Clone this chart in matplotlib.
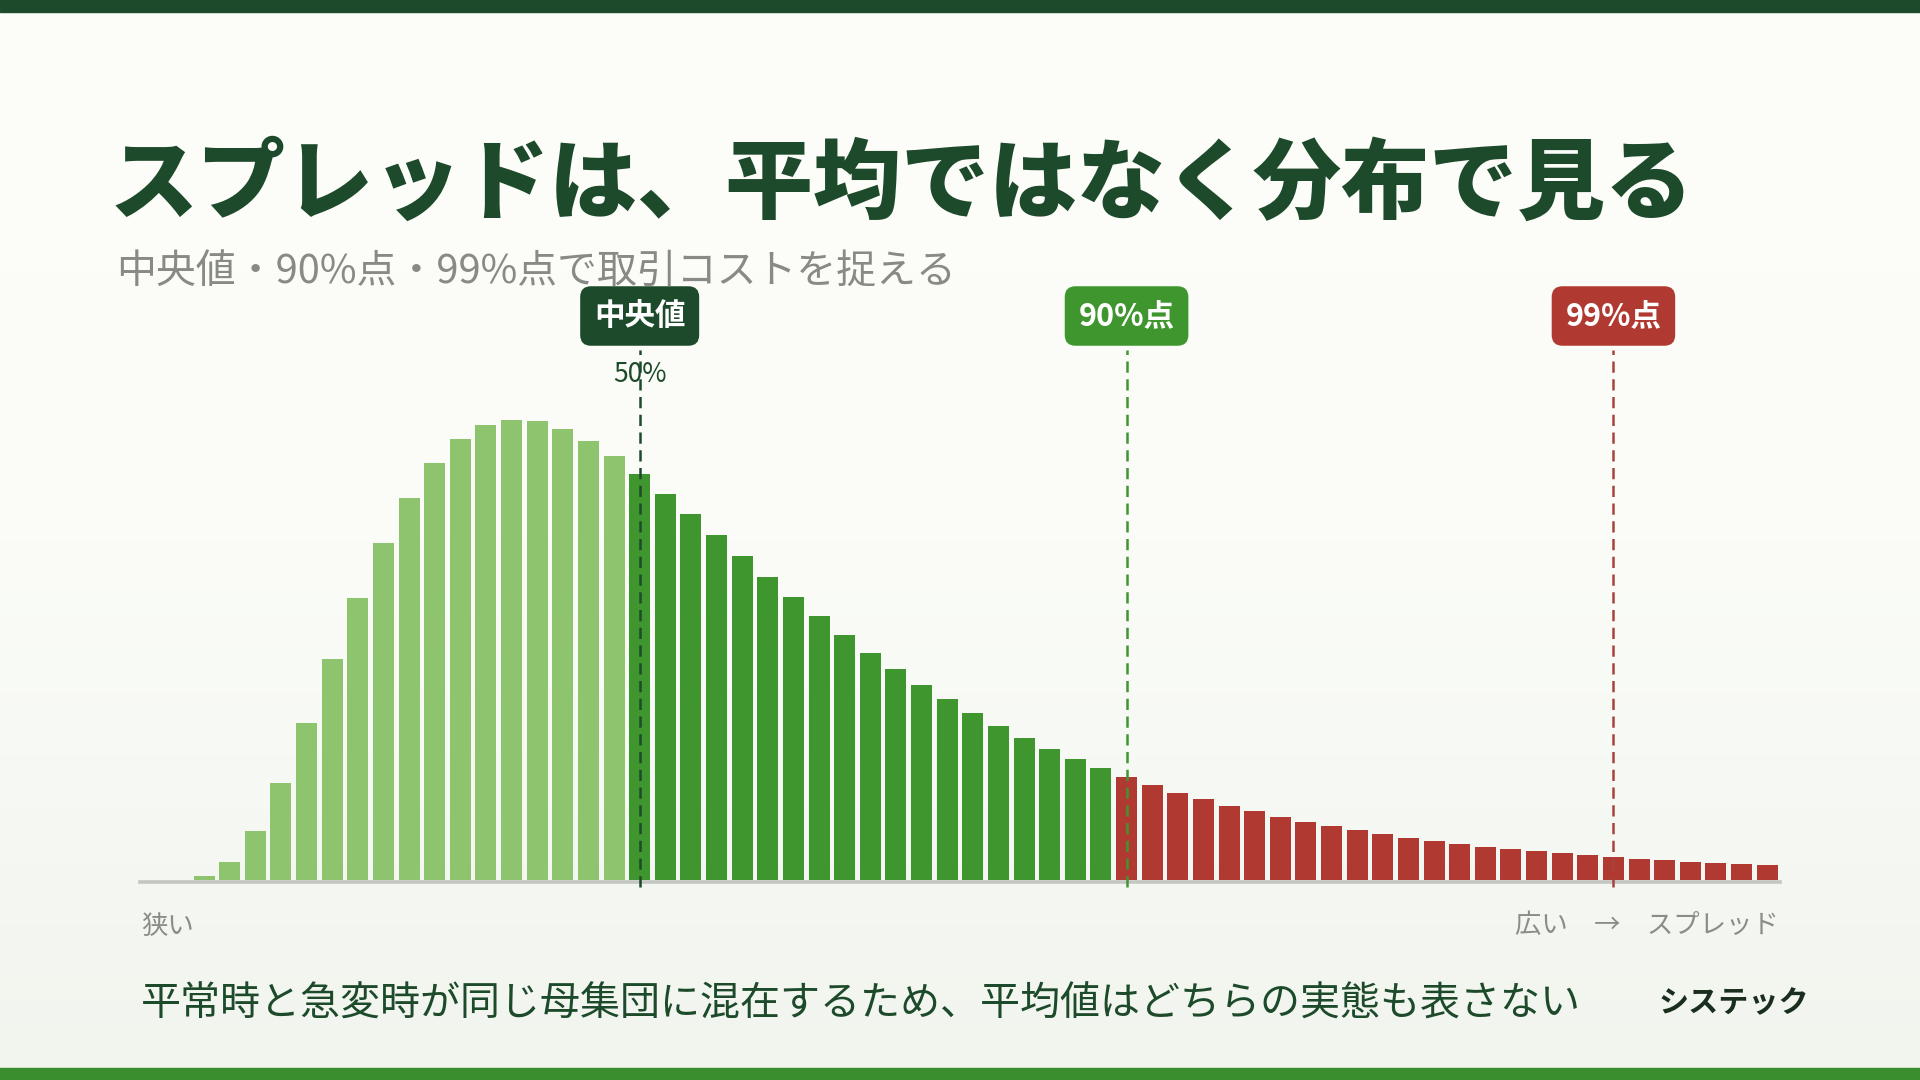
# Spread distribution chart
# -----------------
import numpy as np
import matplotlib.pyplot as plt
from matplotlib.colors import LinearSegmentedColormap
import matplotlib.transforms as mtransforms

plt.rcParams['font.family'] = ['Noto Sans CJK JP', 'DejaVu Sans']

# Data
# -----------------
freq = [0, 0, 0.9, 3.9, 10.7, 21.1, 34.1, 48.0, 61.3, 73.3, 83.0, 90.7, 95.9, 98.9,
        100.0, 99.8, 98.0, 95.4, 92.2, 88.3, 83.9, 79.6, 75.0, 70.4, 65.9, 61.5,
        57.4, 53.3, 49.3, 45.9, 42.4, 39.3, 36.3, 33.5, 30.9, 28.5, 26.3, 24.3,
        22.4, 20.7, 18.9, 17.6, 16.1, 15.0, 13.7, 12.6, 11.7, 10.9, 10.0, 9.1,
        8.5, 7.8, 7.2, 6.7, 6.3, 5.9, 5.4, 5.0, 4.6, 4.3, 3.9, 3.7, 3.5, 3.3]
median_bin = 19
p90_bin = 38
p99_bin = 57
marker_bins = [median_bin, p90_bin, p99_bin]
marker_labels = ['中央値', '90%点', '99%点']

title = 'スプレッドは、平均ではなく分布で見る'
subtitle = '中央値・90%点・99%点で取引コストを捉える'
note = '平常時と急変時が同じ母集団に混在するため、平均値はどちらの実態も表さない'
brand = 'システック'

# Colours
# -----------------
c_dark = '#1d4a2a'
c_light = '#8ec46d'
c_mid = '#3f962f'
c_red = '#b03a31'
c_red_line = '#a8433b'
marker_colors = [c_dark, c_mid, c_red]
line_colors = [c_dark, c_mid, c_red_line]

W, H = 1920, 1080
fig = plt.figure(figsize=(W / 100, H / 100), dpi=100)

# background gradient
bg = fig.add_axes([0, 0, 1, 1])
cmap = LinearSegmentedColormap.from_list('bg', ['#fdfdfa', '#fbfcf8', '#f1f5ee'])
bg.imshow(np.linspace(0, 1, 256).reshape(-1, 1), aspect='auto', cmap=cmap,
          extent=[0, 1, 0, 1], origin='upper')
bg.axhspan(1 - 12 / H, 1, color=c_dark)
bg.axhspan(0, 12 / H, color='#3b8e2e')
bg.set_xlim(0, 1)
bg.set_ylim(0, 1)
bg.axis('off')

# bars
# -----------------
left, right, base, top = 140, 1780, 880, 350
ax = fig.add_axes([left / W, (H - base) / H, (right - left) / W, (base - top) / H])
ax.patch.set_alpha(0)
x = np.arange(len(freq))
colors = [c_light if i < median_bin else (c_mid if i < p90_bin else c_red) for i in x]
ax.bar(x, freq, width=0.82, color=colors, zorder=2)
ax.set_xlim(-0.5, len(freq) - 0.5)
ymax = 100 * (base - top) / 460
ax.set_ylim(0, ymax)
ax.axhline(-0.35, color='#c4c6c2', lw=2.6, zorder=1, clip_on=False)
ax.axis('off')

below = -7 / 4.6
tr = mtransforms.blended_transform_factory(ax.transData, fig.transFigure)
for b, lab, fc, lc in zip(marker_bins, marker_labels, marker_colors, line_colors):
    ax.plot([b, b], [below, ymax], color=lc, lw=1.8, ls=(0, (4.5, 2.6)),
            zorder=3, clip_on=False)
    ax.text(b, (H - 316) / H, lab, transform=tr, ha='center', va='center',
            fontsize=22, fontweight='bold', color='white',
            bbox=dict(boxstyle='round,pad=0.45,rounding_size=0.35', fc=fc, ec='none'))

ax.text(median_bin, (H - 374) / H, '50%', transform=tr, ha='center', va='center',
        fontsize=19, color=c_dark, zorder=4)

# texts
# -----------------
fig.text(110 / W, (H - 186) / H, title, ha='left', va='center', fontsize=63.4,
         fontweight='black', color=c_dark)
fig.text(116 / W, (H - 273) / H, subtitle, ha='left', va='center', fontsize=28.7,
         color='#888a86')
fig.text(141 / W, (H - 926) / H, '狭い', ha='left', va='center', fontsize=19,
         color='#8a8c88')
fig.text(1779 / W, (H - 926) / H, '広い　→　スプレッド', ha='right', va='center',
         fontsize=19, color='#8a8c88')
fig.text(141 / W, (H - 1005) / H, note, ha='left', va='center', fontsize=28.8,
         color=c_dark)
fig.text(1809 / W, (H - 1003) / H, brand, ha='right', va='center', fontsize=21.7,
         fontweight='bold', color='#1a2e1e')

fig.savefig('out.png', dpi=100)
